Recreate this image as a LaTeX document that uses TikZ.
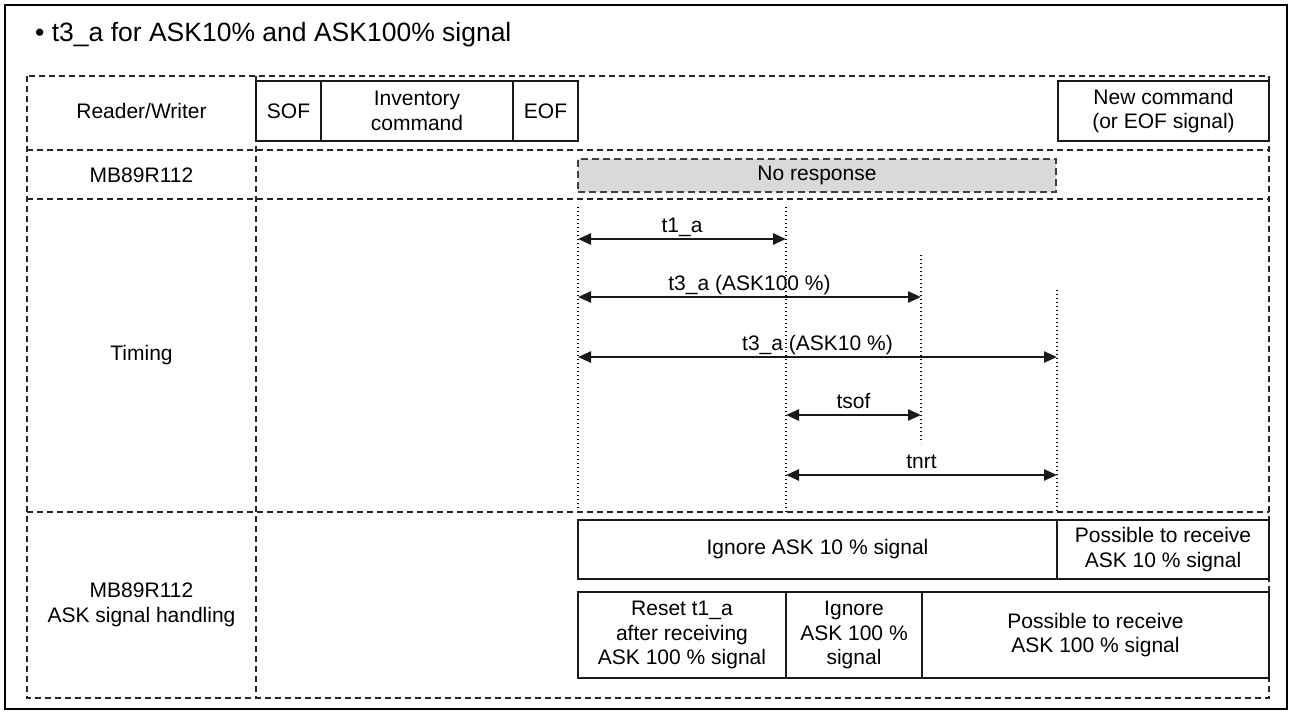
\documentclass[tikz,border=0pt]{standalone}
\usepackage{fontspec}
\setmainfont{Liberation Sans}
\usetikzlibrary{arrows.meta}
\begin{document}
\begin{tikzpicture}[x=1pt,y=-1pt,
  txt/.style={font=\fontsize{21}{24.5}\selectfont, align=center, inner sep=0pt},
  box/.style={txt, draw=black!90, line width=1.6pt},
  grid/.style={draw=black!85, line width=1.3pt, dash pattern=on 6pt off 4pt},
  dotl/.style={draw=black, line width=1.6pt, dash pattern=on 1.4pt off 2.6pt},
  tarrow/.style={draw=black!90, line width=2.4pt, {Triangle[length=13pt,width=11pt]}-{Triangle[length=13pt,width=11pt]}},
  lbl/.style={txt, anchor=base, yshift=7pt}
]
\useasboundingbox (0,0) rectangle (1291,713);
\draw[line width=2.5pt] (5,5) rectangle (1287,709);

% title
\node[anchor=base west, inner sep=0pt, font=\fontsize{26.5}{30}\selectfont] (title) at (35,41) {• t3\_a for ASK10\% and ASK100\% signal};

% dashed table
\draw[grid] (27,76) rectangle (1269,698);
\draw[grid] (27,150) -- (1269,150);
\draw[grid] (27,199) -- (1269,199);
\draw[grid] (27,512) -- (1269,512);
\draw[grid] (256,76) -- (256,698);

% row labels
\node[txt] (rw) at (141.5,111) {Reader/Writer};
\node[txt] (mb) at (141.5,175) {MB89R112};
\node[txt] (tm) at (141.5,355) {Timing};
\node[txt] (ask) at (141.5,605) {MB89R112\\ASK signal handling};

% reader/writer boxes
\node[box, minimum width=65pt, minimum height=60pt] (sof) at (288.5,111) {SOF};
\node[box, minimum width=192pt, minimum height=60pt] (inv) at (417,111) {Inventory\\command};
\node[box, minimum width=65pt, minimum height=60pt] (eof) at (545.5,111) {EOF};
\node[box, minimum width=211pt, minimum height=60pt] (newc) at (1163.5,111) {New command\\(or EOF signal)};

% no response
\node[txt, draw=black!75, fill=black!15, line width=1.5pt, dash pattern=on 7pt off 4pt,
      minimum width=478pt, minimum height=33pt] (nor) at (817,175.5) {No response};

% dotted lines
\coordinate (d1t) at (578,207); \coordinate (d1b) at (578,508);
\coordinate (d2t) at (786,207); \coordinate (d2b) at (786,512);
\coordinate (d3t) at (921,255); \coordinate (d3b) at (921,443);
\coordinate (d4t) at (1057,290); \coordinate (d4b) at (1057,512);
\draw[dotl] (d1t) -- (d1b);
\draw[dotl] (d2t) -- (d2b);
\draw[dotl] (d3t) -- (d3b);
\draw[dotl] (d4t) -- (d4b);

% arrows
\coordinate (a1l) at (578,239); \coordinate (a1r) at (786,239);
\coordinate (a2l) at (578,297); \coordinate (a2r) at (921,297);
\coordinate (a3l) at (578,357); \coordinate (a3r) at (1057,357);
\coordinate (a4l) at (786,415); \coordinate (a4r) at (921,415);
\coordinate (a5l) at (786,475); \coordinate (a5r) at (1057,475);
\draw[tarrow] (a1l) -- node[lbl] (l1) {t1\_a} (a1r);
\draw[tarrow] (a2l) -- node[lbl] (l2) {t3\_a (ASK100 \%)} (a2r);
\draw[tarrow] (a3l) -- node[lbl] (l3) {t3\_a (ASK10 \%)} (a3r);
\draw[tarrow] (a4l) -- node[lbl] (l4) {tsof} (a4r);
\draw[tarrow] (a5l) -- node[lbl] (l5) {tnrt} (a5r);

% ASK handling boxes
\node[box, minimum width=479pt, minimum height=59pt] (ig10) at (817.5,549.5) {Ignore ASK 10 \% signal};
\node[box, minimum width=212pt, minimum height=59pt] (pos10) at (1163,549.5) {Possible to receive\\ASK 10 \% signal};
\node[box, minimum width=208pt, minimum height=86pt] (rst) at (682,635) {Reset t1\_a\\after receiving\\ASK 100 \% signal};
\node[box, minimum width=136pt, minimum height=86pt] (ig100) at (854,635) {Ignore\\ASK 100 \%\\signal};
\node[box, minimum width=347pt, minimum height=86pt] (pos100) at (1095.5,635) {Possible to receive\\ASK 100 \% signal};
\end{tikzpicture}
\end{document}
